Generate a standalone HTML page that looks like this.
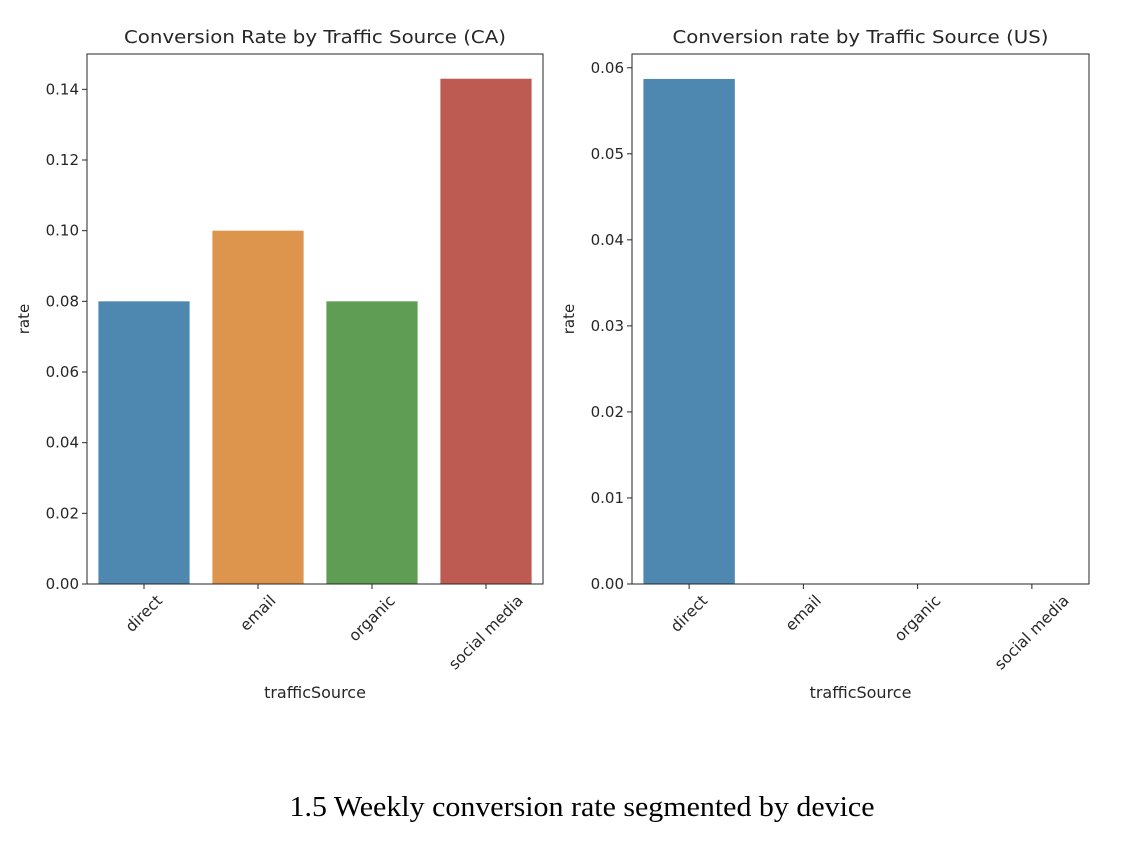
<!DOCTYPE html>
<html><head><meta charset="utf-8"><style>
body{margin:0;background:#fff;}
svg text{font-family:"DejaVu Sans","Liberation Sans",sans-serif;fill:#262626;}
</style></head><body>
<svg id="c" width="1142" height="862" xmlns="http://www.w3.org/2000/svg">
<text x="582" y="816" text-anchor="middle" textLength="585" lengthAdjust="spacingAndGlyphs" style="font-family:'Liberation Serif',serif;font-size:29px;fill:#000">1.5 Weekly conversion rate segmented by device</text>
</svg>
<script>
const categories = ["direct","email","organic","social media"];
const caValues = [0.08, 0.10, 0.08, 0.143];
const usValues = [0.0587, 0, 0, 0];
const caTicks = [0.00,0.02,0.04,0.06,0.08,0.10,0.12,0.14];
const usTicks = [0.00,0.01,0.02,0.03,0.04,0.05,0.06];
const colors = ["#4e87b0","#dd944d","#5f9d55","#bd5a51"];
const NS="http://www.w3.org/2000/svg";
const svg=document.getElementById('c');
function el(tag,attrs,parent,text){const e=document.createElementNS(NS,tag);for(const k in attrs)e.setAttribute(k,attrs[k]);if(text!==undefined)e.textContent=text;(parent||svg).appendChild(e);return e;}
function panel(name,x0,x1,top,bottom,ymax,values,ticks,title,titleLen){
  const g=el('g',{});
  
  
  const ys=v=>bottom-(v/ymax)*(bottom-top);
  const bw=(x1-x0)/categories.length;
  const xs=i=>x0+bw*(i+0.5);
  values.forEach((v,i)=>{
    if(v<=0)return;
    const r=el('rect',{x:xs(i)-bw*0.4,y:ys(v),width:bw*0.8,height:bottom-ys(v),fill:colors[i]},g);
    
    
  });
  const f=el('rect',{x:x0,y:top,width:x1-x0,height:bottom-top,fill:'none',stroke:'#262626','stroke-width':1},g);
  
  
  ticks.forEach(t=>{
    const y=ys(t);
    el('line',{x1:x0-5,x2:x0,y1:y,y2:y,stroke:'#262626'},g);
    const tx=el('text',{x:x0-8,y:y+5,'text-anchor':'end','font-size':15},g,t.toFixed(2));
    
    
  });
  categories.forEach((c,i)=>{
    const x=xs(i);
    el('line',{x1:x,x2:x,y1:bottom,y2:bottom+5,stroke:'#262626'},g);
    const tx=el('text',{x:x,y:bottom,'text-anchor':'middle','dominant-baseline':'central','font-size':15.5},g,c);
    
    
    const L=tx.getComputedTextLength();
    const cy=bottom+14+0.354*L;
    tx.setAttribute('y',cy);
    tx.setAttribute('transform',`rotate(-45 ${x} ${cy})`);
  });
  const tt=el('text',{x:(x0+x1)/2,y:top-11,'text-anchor':'middle','font-size':18,textLength:titleLen,lengthAdjust:'spacingAndGlyphs'},g,title);
  
  
  const xl=el('text',{x:(x0+x1)/2,y:698,'text-anchor':'middle','font-size':16},g,'trafficSource');
  
  
  const yx=x0-58, yy=(top+bottom)/2;
  const yl=el('text',{x:yx,y:yy,'text-anchor':'middle','font-size':15,transform:`rotate(-90 ${yx} ${yy})`},g,'rate');
  
  
}
panel('ca',87,543,54,584,0.15,caValues,caTicks,'Conversion Rate by Traffic Source (CA)',382);
panel('us',632,1089,54,584,0.0616,usValues,usTicks,'Conversion rate by Traffic Source (US)',376);
</script>
</body></html>
